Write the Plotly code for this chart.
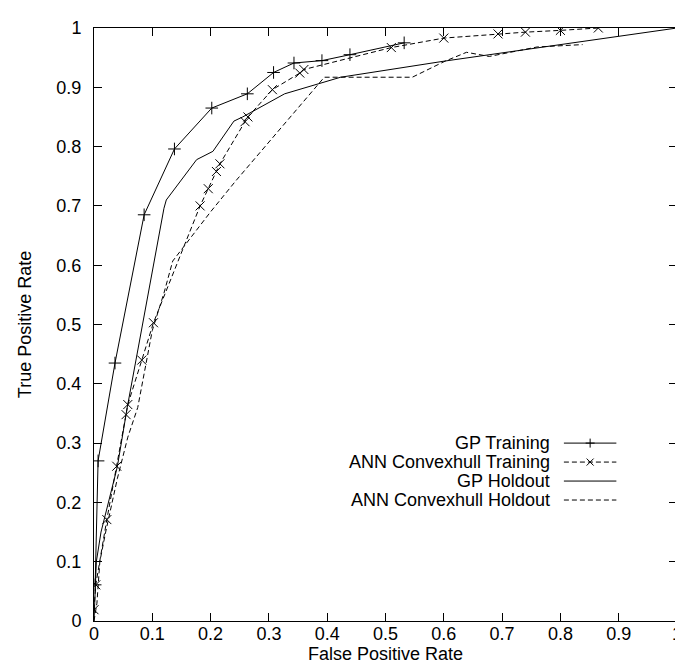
import plotly.graph_objects as go

# ---- data ----
gp_train_fpr = [0.002, 0.007, 0.036, 0.086, 0.138, 0.202, 0.263, 0.308, 0.343, 0.391, 0.439, 0.532]
gp_train_tpr = [0.061, 0.27, 0.435, 0.685, 0.796, 0.865, 0.889, 0.925, 0.941, 0.945, 0.955, 0.975]

ann_train_fpr = [0.0, 0.003, 0.022, 0.039, 0.055, 0.058, 0.082, 0.102, 0.182, 0.196, 0.21, 0.216,
                 0.259, 0.264, 0.306, 0.353, 0.36, 0.51, 0.6, 0.693, 0.74, 0.80, 0.865]
ann_train_tpr = [0.019, 0.061, 0.171, 0.261, 0.348, 0.365, 0.44, 0.503, 0.70, 0.729, 0.758, 0.771,
                 0.842, 0.85, 0.896, 0.924, 0.93, 0.967, 0.983, 0.99, 0.993, 0.996, 1.0]

gp_hold_fpr = [0.0, 0.004, 0.012, 0.04, 0.057, 0.12, 0.124, 0.176, 0.204, 0.24, 0.255, 0.327, 0.423, 0.6, 1.0]
gp_hold_tpr = [0.0, 0.1, 0.15, 0.26, 0.36, 0.696, 0.71, 0.778, 0.792, 0.843, 0.85, 0.889, 0.917, 0.944, 1.0]

ann_hold_fpr = [0.0, 0.005, 0.01, 0.02, 0.04, 0.058, 0.075, 0.1, 0.12, 0.135, 0.2, 0.243,
                0.395, 0.546, 0.602, 0.639, 0.678, 0.76, 0.838]
ann_hold_tpr = [0.0, 0.03, 0.1, 0.15, 0.24, 0.31, 0.36, 0.49, 0.553, 0.607, 0.69, 0.742,
                0.917, 0.917, 0.944, 0.959, 0.952, 0.968, 0.972]

series_names = ["GP Training", "ANN Convexhull Training", "GP Holdout", "ANN Convexhull Holdout"]
tick_vals = [0, 0.1, 0.2, 0.3, 0.4, 0.5, 0.6, 0.7, 0.8, 0.9, 1]
tick_text = ["0", "0.1", "0.2", "0.3", "0.4", "0.5", "0.6", "0.7", "0.8", "0.9", "1"]

FONT = "Liberation Sans, Arial, Helvetica, sans-serif"
FS = 18
DASH = "5px,3px"

styles = [
    dict(dash="solid", symbol="cross-thin"),
    dict(dash=DASH, symbol="x-thin"),
    dict(dash="solid", symbol=None),
    dict(dash=DASH, symbol=None),
]
data = [
    (gp_train_fpr, gp_train_tpr),
    (ann_train_fpr, ann_train_tpr),
    (gp_hold_fpr, gp_hold_tpr),
    (ann_hold_fpr, ann_hold_tpr),
]

fig = go.Figure()
for (xs, ys), st, name in zip(data, styles, series_names):
    if st["symbol"]:
        fig.add_trace(go.Scatter(
            x=xs, y=ys, name=name, mode="lines+markers",
            line=dict(color="black", width=1, dash=st["dash"]),
            marker=dict(symbol=st["symbol"], size=9, color="black",
                        line=dict(color="black", width=1)),
            showlegend=False))
    else:
        fig.add_trace(go.Scatter(
            x=xs, y=ys, name=name, mode="lines",
            line=dict(color="black", width=1, dash=st["dash"]),
            showlegend=False))

# ---- gnuplot-style key: right-aligned text, sample to the right ----
key_text_x = 0.786
key_x0, key_x1, key_xm = 0.806, 0.896, 0.851
key_rows = [0.300, 0.268, 0.236, 0.204]
shapes = []
annotations = []
for name, st, ky in zip(series_names, styles, key_rows):
    annotations.append(dict(
        x=key_text_x, y=ky, xref="paper", yref="paper", text=name,
        showarrow=False, xanchor="right", yanchor="middle",
        font=dict(family=FONT, size=FS, color="black")))
    shapes.append(dict(
        type="line", xref="paper", yref="paper", x0=key_x0, x1=key_x1, y0=ky, y1=ky,
        line=dict(color="black", width=1, dash=st["dash"])))
    if st["symbol"] == "cross-thin":
        path = "M-4.5,0 L4.5,0 M0,-4.5 L0,4.5"
    elif st["symbol"] == "x-thin":
        path = "M-3.5,-3.5 L3.5,3.5 M-3.5,3.5 L3.5,-3.5"
    else:
        path = None
    if path:
        shapes.append(dict(
            type="path", xref="paper", yref="paper", xsizemode="pixel", ysizemode="pixel",
            xanchor=key_xm, yanchor=ky, path=path, line=dict(color="black", width=1)))

axis_common = dict(
    range=[0, 1], tickvals=tick_vals, ticktext=tick_text,
    ticks="inside", ticklen=8, tickwidth=1, tickcolor="black",
    showline=True, linecolor="black", linewidth=1, mirror="allticks",
    showgrid=False, zeroline=False,
    tickfont=dict(family=FONT, size=FS, color="black"),
    ticklabeloverflow="allow",
)

fig.update_layout(
    width=683, height=669,
    margin=dict(l=86, r=9, t=20, b=56),
    paper_bgcolor="white", plot_bgcolor="white",
    showlegend=False,
    xaxis=dict(axis_common, ticklabelstandoff=-4,
               title=dict(text="False Positive Rate",
                          font=dict(family=FONT, size=FS, color="black"), standoff=4)),
    yaxis=dict(axis_common, ticklabelstandoff=8,
               title=dict(text="True Positive Rate",
                          font=dict(family=FONT, size=FS, color="black"), standoff=20)),
    shapes=shapes, annotations=annotations,
)

fig.write_html("out.html")
